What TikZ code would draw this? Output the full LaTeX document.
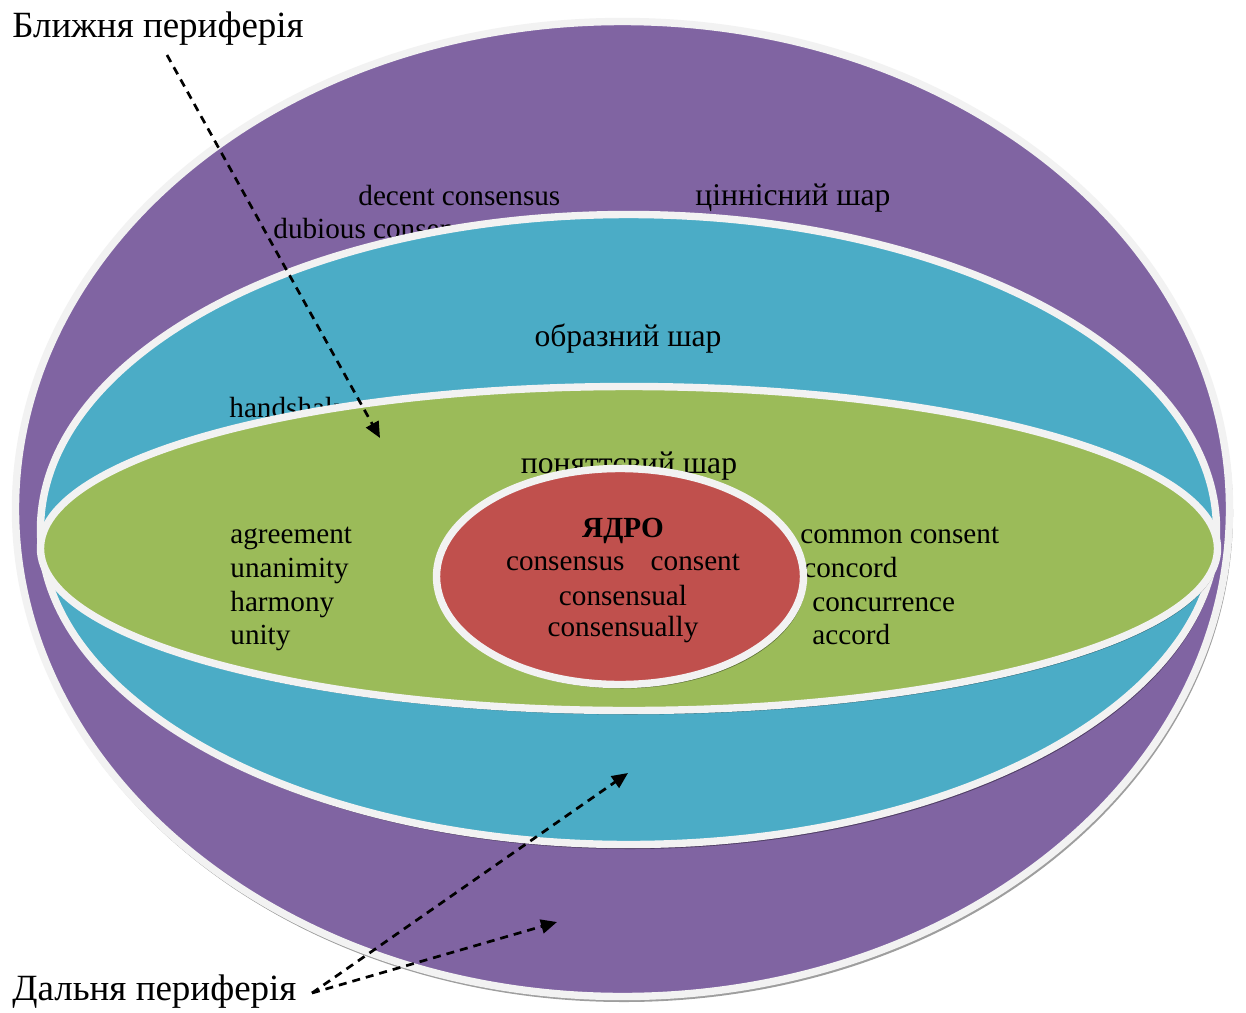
\documentclass[tikz,border=0pt]{standalone}
\usepackage{fontspec}
\setmainfont{Liberation Serif}
\usetikzlibrary{arrows.meta}
\definecolor{purp}{HTML}{8064A2}
\definecolor{aqua}{HTML}{4BACC6}
\definecolor{olive}{HTML}{9BBB59}
\definecolor{brick}{HTML}{C0504D}
\definecolor{ringwhite}{HTML}{F2F2F2}
\begin{document}
\begin{tikzpicture}[x=0.5pt,y=-0.5pt,
  ring/.style={draw=ringwhite, line width=3.7pt},
  shade/.style={fill=black, opacity=0.38},
  lbl/.style={font=\fontsize{14.6}{17}\selectfont, inner sep=0pt, anchor=base west},
  clbl/.style={font=\fontsize{14.6}{17}\selectfont, inner sep=0pt, anchor=base},
  cyr/.style={font=\fontsize{15.8}{17}\selectfont},
  big/.style={font=\fontsize{18.5}{20}\selectfont, inner sep=1pt, anchor=base west},
  arr/.style={line width=1.35pt, dash pattern=on 4pt off 3pt, -{Triangle[length=8pt,width=7pt]}}]
\useasboundingbox (0,0) rectangle (1246,1012);
\fill[white] (0,0) rectangle (1246,1012);
% outer (purple) layer
\fill[shade] (624,513) ellipse [x radius=609, y radius=489];
\filldraw[fill=purp, ring] (622.5,509) ellipse [x radius=607, y radius=487.5];
\node[lbl] (t1) at (358,205) {decent consensus};
\node[lbl, cyr] (t2) at (695,205) {ціннісний шар};
\node[lbl] (t3) at (273,238) {dubious consensus};
% blue layer
\fill[shade] (630,533) ellipse [x radius=589, y radius=316];
\filldraw[fill=aqua, ring] (628.5,529.5) ellipse [x radius=588, y radius=315];
\node[clbl, cyr] (t4) at (628,346) {образний шар};
\node[lbl] (t5) at (229,417) {handshake};
% green layer
\fill[shade] (630.5,552) ellipse [x radius=589, y radius=162.5];
\filldraw[fill=olive, ring] (629,548.5) ellipse [x radius=588.5, y radius=162];
\node[clbl, cyr] (t6) at (629,473) {поняттєвий шар};
\node[lbl] (a1) at (230,543) {agreement};
\node[lbl] (a2) at (230,577) {unanimity};
\node[lbl] (a3) at (230,611) {harmony};
\node[lbl] (a4) at (230,644) {unity};
\node[lbl] (b1) at (800,543) {common consent};
\node[lbl] (b2) at (803,577) {concord};
\node[lbl] (b3) at (812,611) {concurrence};
\node[lbl] (b4) at (812,644) {accord};
% core
\fill[shade] (622,580) ellipse [x radius=184, y radius=108.5];
\filldraw[fill=brick, ring] (620,576.5) ellipse [x radius=183.5, y radius=108];
\node[clbl, font=\fontsize{14.6}{17}\selectfont\bfseries] (c0) at (623,537) {ЯДРО};
\node[clbl] (c1) at (623,570) {consensus\hspace{0.9em}consent};
\node[clbl] (c2) at (623,605) {consensual};
\node[clbl] (c3) at (623,636) {consensually};
% labels and arrows
\node[big] (bl) at (10,37) {Ближня периферія};
\node[big] (dl) at (10,1000) {Дальня периферія};
\coordinate (bs) at (167,55);
\coordinate (btip) at (380,438);
\coordinate (dtip1) at (628,773);
\coordinate (dtip2) at (557,922);
\coordinate (ds) at (312,993);
\draw[arr] (bs) -- (btip);
\draw[arr] (ds) -- (dtip1);
\draw[arr] (ds) -- (dtip2);
\end{tikzpicture}
\end{document}
